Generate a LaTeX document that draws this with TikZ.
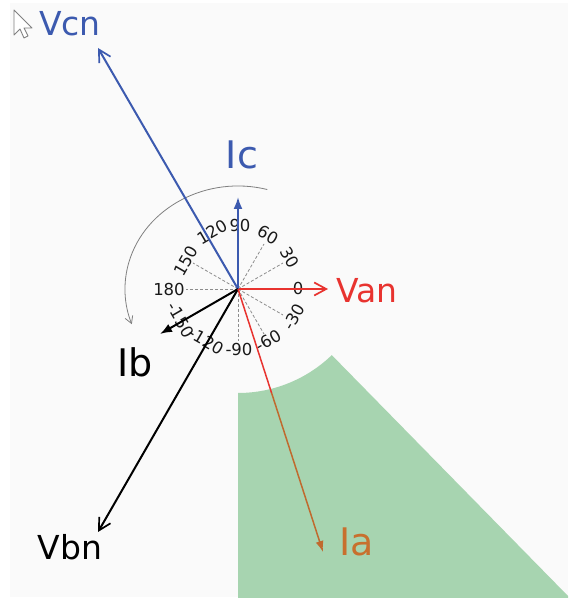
\documentclass[tikz,border=0pt]{standalone}
\usepackage{fontspec}
\setmainfont{DejaVu Sans}
\usetikzlibrary{arrows.meta}
\definecolor{bgc}{HTML}{FAFAFA}
\definecolor{greenc}{HTML}{A7D4B0}
\definecolor{redc}{HTML}{E8332F}
\definecolor{bluec}{HTML}{3C5AAF}
\definecolor{brownc}{HTML}{C06A2E}
\definecolor{orangec}{HTML}{C8702E}
\definecolor{dashc}{HTML}{8C8C8C}
\tikzset{
  dashline/.style={draw=dashc, line width=0.8pt, dash pattern=on 3pt off 2pt},
  phasor/.style={line width=2pt},
  openhead/.style={-{Straight Barb[length=12pt,width=13pt,line width=1.7pt]}},
  fillhead/.style={-{Latex[length=12pt,width=9pt]}},
  anglab/.style={inner sep=0pt, font=\fontsize{16.5}{18}\selectfont, text=black!90},
  biglab/.style={inner sep=0pt, font=\fontsize{33}{36}\selectfont},
  ilab/.style={inner sep=0pt, font=\fontsize{38}{40}\selectfont},
}
\begin{document}
\begin{tikzpicture}[x=1pt,y=1pt]
\useasboundingbox (0,0) rectangle (568,600);
\fill[white] (0,0) rectangle (568,600);
\fill[bgc] (10,3) rectangle (568,597);
% green region
\fill[greenc] (238,207) arc[start angle=270, end angle=314, radius=135] -- (568,4) -- (568,2) -- (238,2) -- cycle;
% cursor
\draw[gray, line width=0.9pt, fill=white, line join=round] (14,590) -- (14,565) -- (20,571) -- (24,562) -- (28,564) -- (24,572) -- (32,572) -- cycle;
% coordinates
\coordinate (O) at (238,311);
\coordinate (vantip) at (328,311);
\coordinate (vcntip) at (98,552);
\coordinate (vbntip) at (98,68);
\coordinate (ictip) at (238,403);
\coordinate (ibtip) at (160,266);
\coordinate (iamid) at (271.6,207);
\coordinate (iatip) at (323,48);
% dashed radial lines
\foreach \a in {0,30,...,330} \draw[dashline] (O) -- ++(\a:52);
% rotation arc
\draw[gray, line width=0.8pt, -{Straight Barb[length=7pt,width=8pt,line width=0.8pt]}] (O) ++(75:113 and 103) arc[start angle=75, end angle=200, x radius=113, y radius=103];
% angle labels
\node[anglab] (l0) at (298,312) {0};
\node[anglab, rotate=-60] (l30) at (290,342) {30};
\node[anglab, rotate=-30] (l60) at (268,365) {60};
\node[anglab] (l90) at (240,375) {90};
\node[anglab, rotate=30] (l120) at (212,368) {120};
\node[anglab, rotate=60] (l150) at (186,339) {150};
\node[anglab] (l180) at (169,311) {180};
\node[anglab, rotate=-60] (lm150) at (181,280) {-150};
\node[anglab, rotate=-30] (lm120) at (206,259) {-120};
\node[anglab] (lm90) at (239,251) {-90};
\node[anglab, rotate=30] (lm60) at (268,259) {-60};
\node[anglab, rotate=60] (lm30) at (294,283) {-30};
% phasors
\draw[phasor, bluec, openhead] (O) -- (vcntip);
\draw[phasor, black, openhead] (O) -- (vbntip);
\draw[phasor, redc, openhead] (O) -- (vantip);
\draw[phasor, bluec, fillhead] (O) -- (ictip);
\draw[phasor, black, fillhead] (O) -- (ibtip);
\draw[line width=1.5pt, redc] (O) -- (iamid);
\draw[line width=1.5pt, brownc, -{Latex[length=11pt,width=8pt]}] (iamid) -- (iatip);
% labels
\node[biglab, text=bluec] (vcn) at (70,576) {Vcn};
\node[biglab, text=redc] (van) at (367,309) {Van};
\node[biglab, text=black] (vbn) at (70,53) {Vbn};
\node[ilab, text=bluec] (ic) at (242,445) {Ic};
\node[ilab, text=black] (ib) at (135,238) {Ib};
\node[ilab, text=orangec] (ia) at (357,58) {Ia};
\end{tikzpicture}
\end{document}
